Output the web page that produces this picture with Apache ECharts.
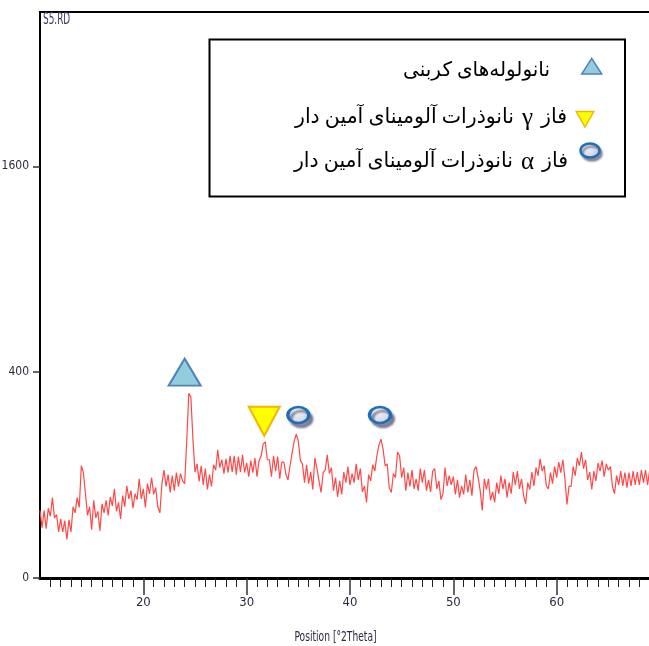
<!DOCTYPE html>
<html><head><meta charset="utf-8">
<script src="https://cdn.jsdelivr.net/npm/echarts@6/dist/echarts.min.js"></script>
<style>html,body{margin:0;padding:0;background:#fff}#c{width:649px;height:646px}</style>
</head><body><div id="c"></div>
<script>
// XRD scan: start angle and step (°2Theta), counts
const startAngle = 10.0;
const stepSize = 0.2;
const intensity = [
  43, 24, 43, 23, 46,   36, 61, 34, 38, 20,   33, 20, 31, 14, 32,   20, 48, 40, 61, 47,
  119, 105, 67, 37, 48, 22, 57, 34, 42, 21,   52, 40, 57, 37, 62,   49, 75, 42, 54, 33,
  64, 48, 80, 59, 72,   46, 67, 58, 93, 59,   75, 47, 84, 67, 95,   66, 77, 48, 40, 84,
  110, 79, 101, 69, 99, 72, 105, 79, 103, 89, 84, 177, 322, 309, 182, 106, 123, 88, 119, 82,
  113, 74, 101, 79, 121, 110, 155, 115, 132, 103, 134, 105, 141, 106, 141, 101, 139, 106, 143, 105,
  125, 97, 130, 105, 136, 97, 130, 141, 170, 175, 132, 132, 97, 141, 108, 139, 93, 127, 127, 101,
  91, 119, 148, 177, 195, 177, 130, 123, 86, 121, 84, 106, 74, 136, 113, 89, 69, 105, 110, 143,
  103, 115, 72, 95, 62, 89, 66, 106, 86, 117, 82, 103, 86, 123, 91,  113, 70, 80, 54, 101,
  89, 121, 108, 141, 167, 182, 157, 119, 123, 77, 69, 103, 95, 150, 141, 95, 115, 72, 105, 79,
  110, 75, 93, 72, 113, 86, 110, 72, 91, 70,  108, 113, 75, 89, 58,  67, 115, 80, 99, 82,
  97, 66, 91, 61, 80,   66, 101, 69, 91, 64,  110, 117, 95, 72, 43,  93, 74, 93, 57, 70,
  54, 86, 67, 99, 75,   93, 61, 86, 67, 106,  82, 108, 75, 93, 64,  52, 86, 74, 106, 80,
  115, 99, 134, 108, 119, 80, 75, 105, 84, 117, 95, 127, 105, 132, 93, 51, 80, 79, 117, 99,
  136, 119, 150, 113, 132, 91, 106, 74, 108, 89, 125, 108, 130, 97, 123, 110, 117, 79, 67, 99,
  82, 108, 80, 105, 77, 105, 80, 108, 82, 106, 82, 110, 86, 110, 82, 110, 84
];
const xTicks = [20, 30, 40, 50, 60];
const yTickCounts = [0, 400, 1600];
const cntPeaks = [[24.0, 400]];
const gammaPeaks = [[31.7, 232]];
const alphaPeaks = [[35.0, 251], [42.9, 251]];
const legendCnt = 'نانولوله‌های کربنی';
const legendPhaseWords = 'فاز';
const legendAlumina = 'نانوذرات آلومینای آمین دار';
const greekGamma = 'γ';
const greekAlpha = 'α';
const xName = 'Position [°2Theta]';
const sampleName = 'S5.RD';

const sq = v => Math.sqrt(v);
const lineData = intensity.map((c, i) => [+(startAngle + i * stepSize).toFixed(1), sq(c)]);
const toSqrt = arr => arr.map(p => [p[0], sq(p[1])]);

const narrow = "'Liberation Sans Narrow', 'DejaVu Sans Condensed', 'Liberation Sans', sans-serif";
const persian = "'Liberation Serif', 'DejaVu Sans', serif";
const circleFill = {type: 'radial', x: 0.4, y: 0.35, r: 0.75,
  colorStops: [{offset: 0, color: '#f6f6fc'}, {offset: 1, color: '#c6c6de'}]};
const richLegend = {
  p: {fontSize: 20.5, fontFamily: persian, color: '#000'},
  g: {fontSize: 25, fontFamily: "'Liberation Serif', serif", color: '#000'},
  s: {width: 8, fontSize: 20}
};
const phaseLine = g => '{p|' + legendAlumina + '}{s| }{g|' + g + '}{s| }{p|' + legendPhaseWords + '}';

const chart = echarts.init(document.getElementById('c'), null, {renderer: 'canvas'});
chart.setOption({
  animation: false,
  backgroundColor: '#fff',
  grid: {left: 40, top: 12, right: -11, bottom: 68, show: true, borderColor: '#000', borderWidth: 2,
    containLabel: false, outerBoundsMode: 'none'},
  xAxis: {
    type: 'value', min: 10, max: 70, interval: 10,
    axisLine: {onZero: false, lineStyle: {color: '#000', width: 3}},
    axisTick: {customValues: xTicks, length: 17, lineStyle: {color: '#333', width: 1.5}},
    minorTick: {show: true, splitNumber: 10, length: 9, lineStyle: {color: '#222', width: 1}},
    axisLabel: {customValues: xTicks, margin: 18, fontSize: 13, fontFamily: narrow, color: '#2b2b40'},
    splitLine: {show: false}, minorSplitLine: {show: false}
  },
  yAxis: {
    type: 'value', min: 0, max: 55, interval: 20,
    axisLine: {show: true, onZero: false, lineStyle: {color: '#000', width: 2}},
    axisTick: {show: true, customValues: yTickCounts.map(sq), length: 7, lineStyle: {color: '#333', width: 1.5}},
    axisLabel: {customValues: yTickCounts.map(sq), formatter: v => String(Math.round(v * v)),
      margin: 11, fontSize: 12, fontFamily: narrow, color: '#2b2b40'},
    splitLine: {show: false}
  },
  series: [
    {type: 'line', data: lineData, showSymbol: false, symbol: 'none', sampling: 'none',
      lineStyle: {color: '#ff4848', width: 1.2}, z: 2},
    {type: 'scatter', data: toSqrt(cntPeaks), symbol: 'triangle', symbolSize: [32, 27],
      itemStyle: {color: '#93cddd', borderColor: '#4f81bd', borderWidth: 2, opacity: 1}, z: 5},
    {type: 'scatter', data: toSqrt(gammaPeaks), symbol: 'triangle', symbolRotate: 180, symbolSize: [31, 29],
      itemStyle: {color: '#ffff00', borderColor: '#f2b800', borderWidth: 2, opacity: 1}, z: 5},
    {type: 'scatter', data: toSqrt(alphaPeaks), symbol: 'circle', symbolSize: [21, 16],
      itemStyle: {color: circleFill, borderColor: '#1f6fb7', borderWidth: 3, opacity: 1,
        shadowBlur: 2, shadowColor: 'rgba(80,80,110,0.65)', shadowOffsetX: 3, shadowOffsetY: 4}, z: 5}
  ],
  graphic: [
    {type: 'text', x: 43, y: 13, scaleX: 0.66, z: 50,
      style: {text: sampleName, font: '15px ' + narrow, fill: '#3a3a6a', textAlign: 'left', textVerticalAlign: 'top', align: 'left', verticalAlign: 'top'}},
    {type: 'text', x: 335.5, y: 637, scaleX: 0.7, z: 50,
      style: {text: xName, font: '14.5px ' + narrow, fill: '#2b2b40', textAlign: 'center', textVerticalAlign: 'middle', align: 'center', verticalAlign: 'middle'}},
    {type: 'rect', z: 60, shape: {x: 209.5, y: 39.5, width: 415.5, height: 157},
      style: {fill: '#fff', stroke: '#000', lineWidth: 2}},
    {type: 'text', x: 550, y: 71, z: 61,
      style: {text: legendCnt, font: '20px ' + persian, fill: '#000', textAlign: 'right', textVerticalAlign: 'middle', align: 'right', verticalAlign: 'middle'}},
    {type: 'text', x: 567, y: 118, z: 61,
      style: {text: phaseLine(greekGamma), rich: richLegend, textAlign: 'right', textVerticalAlign: 'middle', align: 'right', verticalAlign: 'middle'}},
    {type: 'text', x: 568, y: 162, z: 61,
      style: {text: phaseLine(greekAlpha), rich: richLegend, textAlign: 'right', textVerticalAlign: 'middle', align: 'right', verticalAlign: 'middle'}},
    {type: 'polygon', z: 61, shape: {points: [[581.7, 74], [601.7, 74], [591.7, 58.3]]},
      style: {fill: '#93cddd', stroke: '#4f81bd', lineWidth: 1.5}},
    {type: 'polygon', z: 61, shape: {points: [[576.2, 111.5], [593.8, 111.5], [585, 127]]},
      style: {fill: '#ffff00', stroke: '#f2b800', lineWidth: 1.5}},
    {type: 'ellipse', z: 61, shape: {cx: 590, cy: 150.5, rx: 9.5, ry: 7},
      style: {fill: circleFill, stroke: '#1f6fb7', lineWidth: 2.5, shadowBlur: 2, shadowOffsetX: 2, shadowOffsetY: 3, shadowColor: 'rgba(80,80,110,0.6)'}}
  ]
});
</script></body></html>
